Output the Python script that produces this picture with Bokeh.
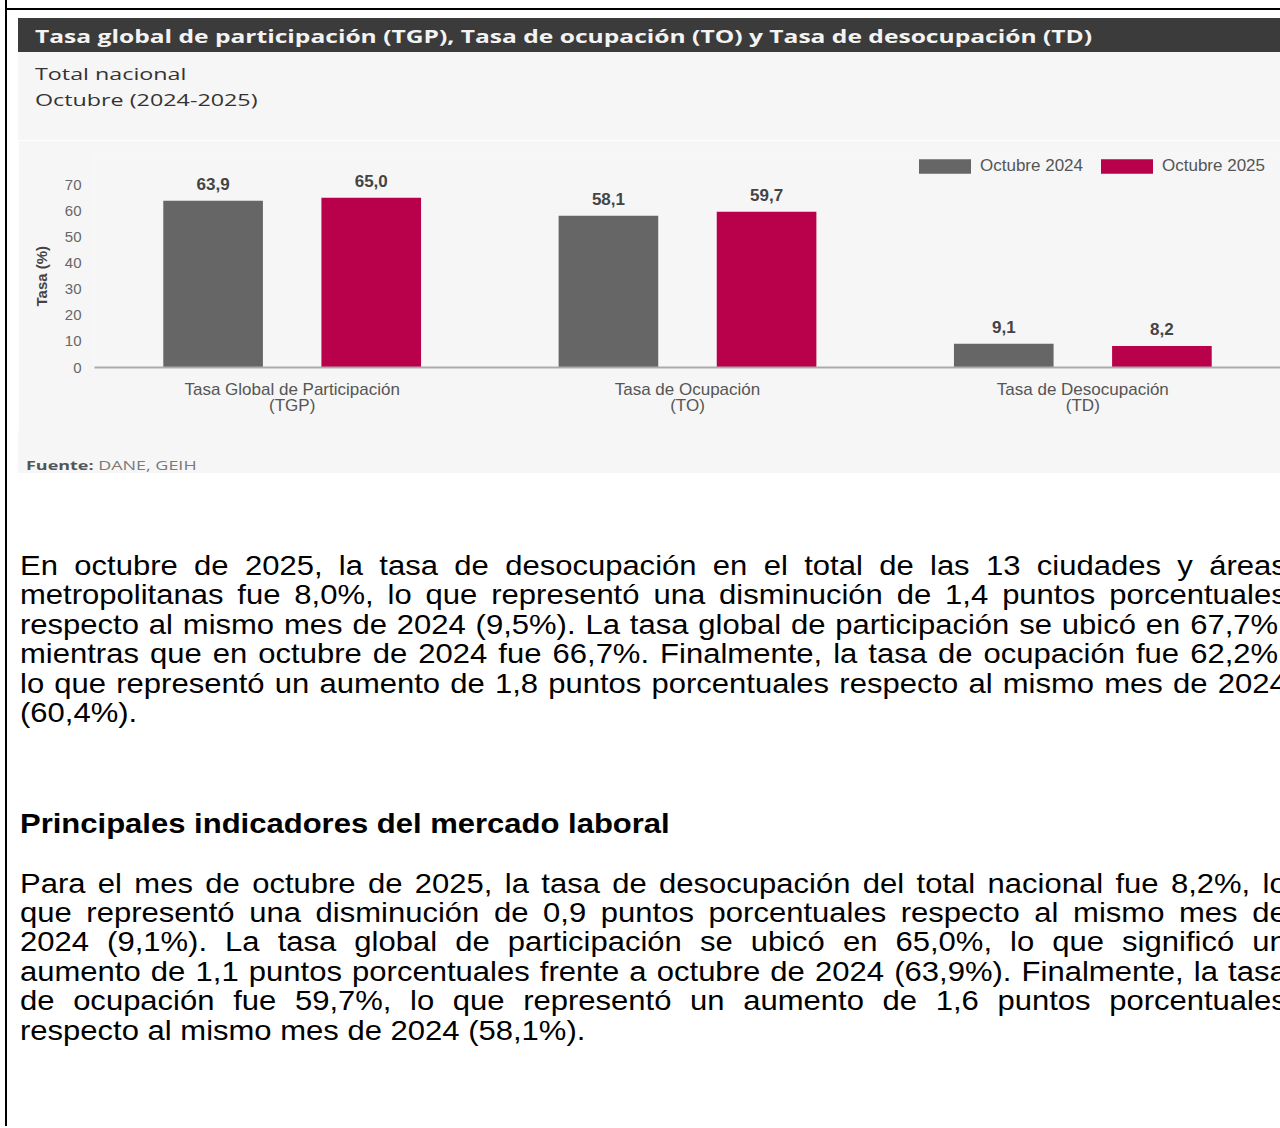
from bokeh.plotting import figure
from bokeh.models import (FactorRange, Range1d, ColumnDataSource, FixedTicker,
                          Legend, LegendItem, Title, Div)
from bokeh.layouts import column, row
from bokeh.transform import dodge
from bokeh.core.properties import value
from bokeh.embed import file_html
from bokeh.resources import INLINE

# ---------------- data ----------------
chart_title = "Tasa global de participación (TGP), Tasa de ocupación (TO) y Tasa de desocupación (TD)"
subtitle_lines = ["Total nacional", "Octubre (2024-2025)"]
source_bold = "Fuente:"
source_text = "DANE, GEIH"

category_labels = ["Tasa Global de Participación\n(TGP)",
                   "Tasa de Ocupación\n(TO)",
                   "Tasa de Desocupación\n(TD)"]
series_names = ["Octubre 2024", "Octubre 2025"]
values_2024 = [63.9, 58.1, 9.1]
values_2025 = [65.0, 59.7, 8.2]
y_ticks = [0, 10, 20, 30, 40, 50, 60, 70]
y_axis_title = "Tasa (%)"

paragraph_1 = [
    "En octubre de 2025, la tasa de desocupación en el total de las 13 ciudades y áreas",
    "metropolitanas fue 8,0%, lo que representó una disminución de 1,4 puntos porcentuales",
    "respecto al mismo mes de 2024 (9,5%). La tasa global de participación se ubicó en 67,7%,",
    "mientras que en octubre de 2024 fue 66,7%. Finalmente, la tasa de ocupación fue 62,2%,",
    "lo que representó un aumento de 1,8 puntos porcentuales respecto al mismo mes de 2024",
    "(60,4%).",
]
heading = "Principales indicadores del mercado laboral"
paragraph_2 = [
    "Para el mes de octubre de 2025, la tasa de desocupación del total nacional fue 8,2%, lo",
    "que representó una disminución de 0,9 puntos porcentuales respecto al mismo mes de",
    "2024 (9,1%). La tasa global de participación se ubicó en 65,0%, lo que significó un",
    "aumento de 1,1 puntos porcentuales frente a octubre de 2024 (63,9%). Finalmente, la tasa",
    "de ocupación fue 59,7%, lo que representó un aumento de 1,6 puntos porcentuales",
    "respecto al mismo mes de 2024 (58,1%).",
]

# ---------------- styles ----------------
GRAY = "#666666"
RED = "#b9004b"
BG = "#f6f6f6"
BAND = "#3b3b3b"
FONT = "Liberation Sans"
OPEN = "Open Sans"
PAGE_W = 1280


def fmt(v):
    return f"{v:.1f}".replace(".", ",")


def abs_text(text, left, top, family, size, weight, color, sx, lh):
    return (f'<div style="position:absolute;left:{left}px;top:{top}px;white-space:nowrap;'
            f"font-family:'{family}';font-size:{size}px;font-weight:{weight};color:{color};"
            f'line-height:{lh}px;transform:scaleX({sx});transform-origin:0 0;">{text}</div>')


def box(left, top, w, h, color):
    return (f'<div style="position:absolute;left:{left}px;top:{top}px;width:{w}px;'
            f'height:{h}px;background:{color};"></div>')


def wrap(inner, w, h):
    return (f'<div style="position:relative;width:{w}px;height:{h}px;overflow:hidden;'
            f'background:#ffffff;margin:0;padding:0;">{inner}</div>')


def left_rule(h):
    return box(5, 0, 2, h, "#000")


# ---------------- header (title band + subtitle) ----------------
H_HEAD = 140
head_html = (
    left_rule(H_HEAD)
    + box(5, 8, PAGE_W - 5, 2, "#000")
    + box(18, 18, PAGE_W - 18, 34, BAND)
    + box(18, 52, PAGE_W - 18, H_HEAD - 52, BG)
    + abs_text(chart_title, 35, 25.5, OPEN, 17.5, 700, "#f3f3f3", 1.405, 20)
    + abs_text(subtitle_lines[0], 35, 64, OPEN, 17, 400, "#333333", 1.37, 20)
    + abs_text(subtitle_lines[1], 35, 90, OPEN, 17, 400, "#333333", 1.37, 20)
)
header = Div(text=wrap(head_html, PAGE_W, H_HEAD), width=PAGE_W, height=H_HEAD, margin=0)

# ---------------- chart figure ----------------
H_FIG = 290
src = ColumnDataSource(dict(
    cat=category_labels,
    v24=values_2024, v25=values_2025,
    l24=[fmt(v) for v in values_2024], l25=[fmt(v) for v in values_2025],
))

p = figure(width=PAGE_W - 18, height=H_FIG,
           x_range=FactorRange(factors=category_labels, range_padding=0),
           y_range=Range1d(0, 82),
           output_backend="svg", toolbar_location=None,
           min_border_left=75, min_border_right=0,
           min_border_top=13, min_border_bottom=63, margin=0)
p.background_fill_color = BG
p.border_fill_color = BG
p.outline_line_color = None

r1 = p.vbar(x=dodge("cat", -0.2, range=p.x_range), top="v24", width=0.252,
            source=src, fill_color=GRAY, line_color=None)
r2 = p.vbar(x=dodge("cat", 0.2, range=p.x_range), top="v25", width=0.252,
            source=src, fill_color=RED, line_color=None)

for off, top_col, lab_col in [(-0.2, "v24", "l24"), (0.2, "v25", "l25")]:
    p.text(x=dodge("cat", off, range=p.x_range), y=top_col, text=lab_col, source=src,
           text_align="center", text_baseline="alphabetic", y_offset=-17,
           text_font=value(FONT), text_font_style="bold", text_font_size="17px",
           text_color="#444444")

legend = Legend(items=[LegendItem(label=series_names[0], renderers=[r1]),
                       LegendItem(label=series_names[1], renderers=[r2])],
                orientation="horizontal", location=(818, 191),
                glyph_width=65, glyph_height=18, label_standoff=3, spacing=11,
                padding=0, margin=0, border_line_color=None,
                background_fill_alpha=0, label_text_font=FONT,
                label_text_font_size="17px", label_text_color="#555555",
                label_height=20)
p.add_layout(legend)

p.add_layout(Title(text=y_axis_title, align="left", offset=61, standoff=24,
                   text_font=FONT, text_font_style="bold", text_font_size="15px",
                   text_color="#444444"), "left")

p.xaxis.axis_line_color = "#ababab"
p.xaxis.axis_line_width = 2
p.xaxis.major_tick_line_color = None
p.xaxis.minor_tick_line_color = None
p.xaxis.major_label_text_font = FONT
p.xaxis.major_label_text_font_size = "17px"
p.xaxis.major_label_text_line_height = 0.85
p.xaxis.major_label_text_color = "#555555"
p.xaxis.major_label_standoff = 6

p.yaxis.ticker = FixedTicker(ticks=y_ticks)
p.yaxis.axis_line_color = None
p.yaxis.major_tick_line_color = None
p.yaxis.minor_tick_line_color = None
p.yaxis.major_label_text_font = FONT
p.yaxis.major_label_text_font_size = "15px"
p.yaxis.major_label_text_color = "#666666"
p.yaxis.major_label_standoff = 7

p.xgrid.grid_line_color = None
p.ygrid.grid_line_color = None

spacer = Div(text=wrap(left_rule(H_FIG), 18, H_FIG), width=18, height=H_FIG, margin=0)
chart_row = row(spacer, p, spacing=0, margin=0)

# ---------------- source line ----------------
H_SRC = 48
src_html = (
    left_rule(H_SRC)
    + box(18, 0, PAGE_W - 18, 43, BG)
    + abs_text(f'<b style="color:#555">{source_bold}</b> <span style="color:#7a7a7a">{source_text}</span>',
               26, 26.6, OPEN, 13, 400, "#555555", 1.38, 16)
)
source_div = Div(text=wrap(src_html, PAGE_W, H_SRC), width=PAGE_W, height=H_SRC, margin=0)

# ---------------- paragraphs ----------------
H_TXT = 648
LH = 29.4
FS = 27.7
SX = 1.12
INNER_W = 1131


def line_html(t, justify):
    align = "text-align:justify;text-align-last:justify;" if justify else "text-align:left;"
    return f'<div style="{align}width:{INNER_W}px;height:{LH}px;">{t}</div>'


def block(lines, top, bold=False):
    inner = "".join(line_html(t, i < len(lines) - 1) for i, t in enumerate(lines))
    return (f'<div style="position:absolute;left:20px;top:{top}px;width:{INNER_W}px;'
            f"font-family:'{FONT}';font-size:{FS}px;line-height:{LH}px;color:#000;"
            f'font-weight:{700 if bold else 400};transform:scaleX({SX});transform-origin:0 0;">{inner}</div>')


txt_html = (
    left_rule(H_TXT)
    + block(paragraph_1, 73.1)
    + block([heading], 330.6, bold=True)
    + block(paragraph_2, 390.6)
)
text_div = Div(text=wrap(txt_html, PAGE_W, H_TXT), width=PAGE_W, height=H_TXT, margin=0)

page = column(header, chart_row, source_div, text_div, spacing=0, margin=0)

open("out.html", "w").write(file_html(page, INLINE))
